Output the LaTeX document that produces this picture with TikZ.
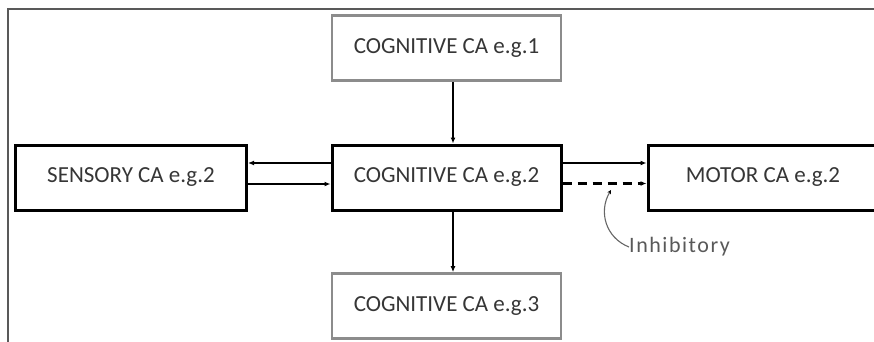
\documentclass[tikz,border=0pt]{standalone}
\usepackage{fontspec}
\setmainfont{Carlito}
\newfontfamily\handfont[LetterSpace=7]{Carlito}
\usetikzlibrary{arrows.meta}
\definecolor{txt}{HTML}{363636}
\begin{document}
\begin{tikzpicture}[x=1pt,y=-1pt,
  box/.style={rectangle,minimum width=229pt,minimum height=65pt,inner sep=0pt,
    font=\fontsize{23}{27}\selectfont,text=txt},
  graybox/.style={box,draw=black!45,line width=2.6pt},
  blackbox/.style={box,draw=black,line width=3pt},
  conn/.style={line width=2.2pt,-{Latex[length=6pt,width=5pt]}},
  frame/.style={draw=black!65,line width=2.4pt}]
\useasboundingbox (0,0) rectangle (874,342);
\clip (0,0) rectangle (874,342);
\fill[white] (0,0) rectangle (874,342);
\draw[frame] (8,342) -- (8,9) -- (874,9);
\node[graybox]  (c1) at (446.5,48) {COGNITIVE CA e.g.1};
\node[blackbox] (c2) at (446.5,177.5) {COGNITIVE CA e.g.2};
\node[graybox]  (c3) at (446.5,306) {COGNITIVE CA e.g.3};
\node[blackbox,minimum width=231pt] (s) at (131,177.5) {SENSORY CA e.g.2};
\node[blackbox,minimum width=230pt] (m) at (763,177.5) {MOTOR CA e.g.2};
\draw[conn] ([xshift=6.5pt]c1.south) -- ([xshift=6.5pt]c2.north);
\draw[conn] ([xshift=6.5pt]c2.south) -- ([xshift=6.5pt]c3.north);
\draw[conn] ([yshift=14.5pt]c2.west) -- ([yshift=14.5pt]s.east);
\draw[conn] ([yshift=-6.5pt]s.east) -- ([yshift=-6.5pt]c2.west);
\draw[conn] ([yshift=14.5pt]c2.east) -- ([yshift=14.5pt]m.west);
\draw[conn,dash pattern=on 9pt off 6pt] ([yshift=-6pt]c2.east) -- ([yshift=-6pt]m.west);
\node[anchor=west,inner sep=0pt,text=black!65,font=\handfont\fontsize{22}{26}\selectfont] (inh) at (629,247) {Inhibitory};
\coordinate (tip) at (611,190);
\draw[black!60,line width=1.1pt,-{Stealth[length=4pt,width=4pt,black]}] (inh.west) .. controls (606,238) and (598,212) .. (tip);
\end{tikzpicture}
\end{document}
